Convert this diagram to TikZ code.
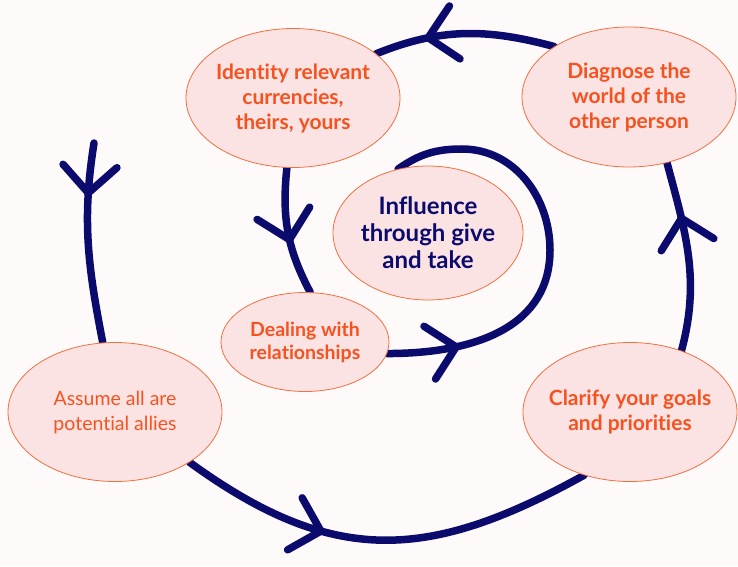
\documentclass[tikz,border=0pt]{standalone}
\usepackage{fontspec}
\setmainfont{Lato}[Ligatures={NoCommon,NoContextual}]
\usetikzlibrary{shapes.geometric,decorations.markings}
\definecolor{infNavy}{HTML}{0B0B6E}
\definecolor{infOrange}{HTML}{F5521F}
\definecolor{infEdge}{HTML}{F0703F}
\definecolor{infPink}{HTML}{FCE3E3}
\definecolor{infBack}{HTML}{FFFAFA}
\pgfdeclarelayer{paper}
\pgfdeclarelayer{track}
\pgfsetlayers{paper,track,main}
\tikzset{
  inf track/.style={draw=infNavy, line width=7.5pt, line cap=round},
  inf chevron/.style={postaction={decorate}, decoration={markings,
      mark=at position #1 with {\draw[draw=infNavy, line width=7.5pt, line cap=round, line join=round]
        (-27pt,27pt) -- (0pt,0pt) -- (-27pt,-27pt);}}},
  inf bubble/.style={ellipse, draw=infEdge, fill=infPink, line width=0.8pt, inner ysep=0pt, inner xsep=-12pt,
    minimum width=214pt, minimum height=139pt, align=center, text=infOrange,
    font=\fontsize{21}{25}\selectfont\bfseries},
}

\begin{document}
\begin{tikzpicture}[x=1pt,y=1pt]
  \begin{pgfonlayer}{paper}
    \fill[infBack] (0,0) rectangle (738,566);
  \end{pgfonlayer}
  \useasboundingbox (0,0) rectangle (738,566);
  % Bubbles
  \node[inf bubble] (identity) at (293,468) {Identity relevant\\currencies,\\theirs, yours};
  \node[inf bubble, minimum height=140pt] (diagnose) at (629,469) {Diagnose the\\world of the\\other person};
  \node[inf bubble, minimum width=190pt, minimum height=134pt, text=infNavy,
    font=\fontsize{24}{27}\selectfont\bfseries] (influence) at (428,333) {Influence\\through give\\and take};
  \node[inf bubble, minimum width=168pt, minimum height=99pt,
    font=\fontsize{19.5}{23}\selectfont\bfseries] (dealing) at (305,224) {Dealing with\\relationships};
  \node[inf bubble, font=\fontsize{19.5}{25}\selectfont] (assume) at (115,154) {Assume all are\\potential allies};
  \node[inf bubble] (clarify) at (630,154) {Clarify your goals\\and priorities};
  % Spiral, outside in
  \coordinate (start) at (94,423);
  \coordinate (loop east) at (550,316);
  \coordinate (loop north) at (462,417);
  \begin{pgfonlayer}{track}
    \draw[inf track, inf chevron=0.25] (start) to[out=-99,in=101] (assume.100);
    \draw[inf track, inf chevron=0.35] (assume.-34) to[out=-36,in=209,looseness=1.15] (clarify.-126);
    \draw[inf track, inf chevron=0.7] (clarify.50) to[out=75,in=-75] (diagnose.-60);
    \draw[inf track, inf chevron=0.7] (diagnose.146) to[out=165,in=22] (identity.28);
    \draw[inf track, inf chevron=0.56] (identity.-95) to[out=-96,in=118] (dealing.84);
    \draw[inf track, inf chevron=0.16] (dealing.-8)
      to[out=0,in=-90,out looseness=1.2] (loop east)
      to[out=90,in=0] (loop north)
      to[out=180,in=35] (influence.115);
  \end{pgfonlayer}
\end{tikzpicture}
\end{document}
